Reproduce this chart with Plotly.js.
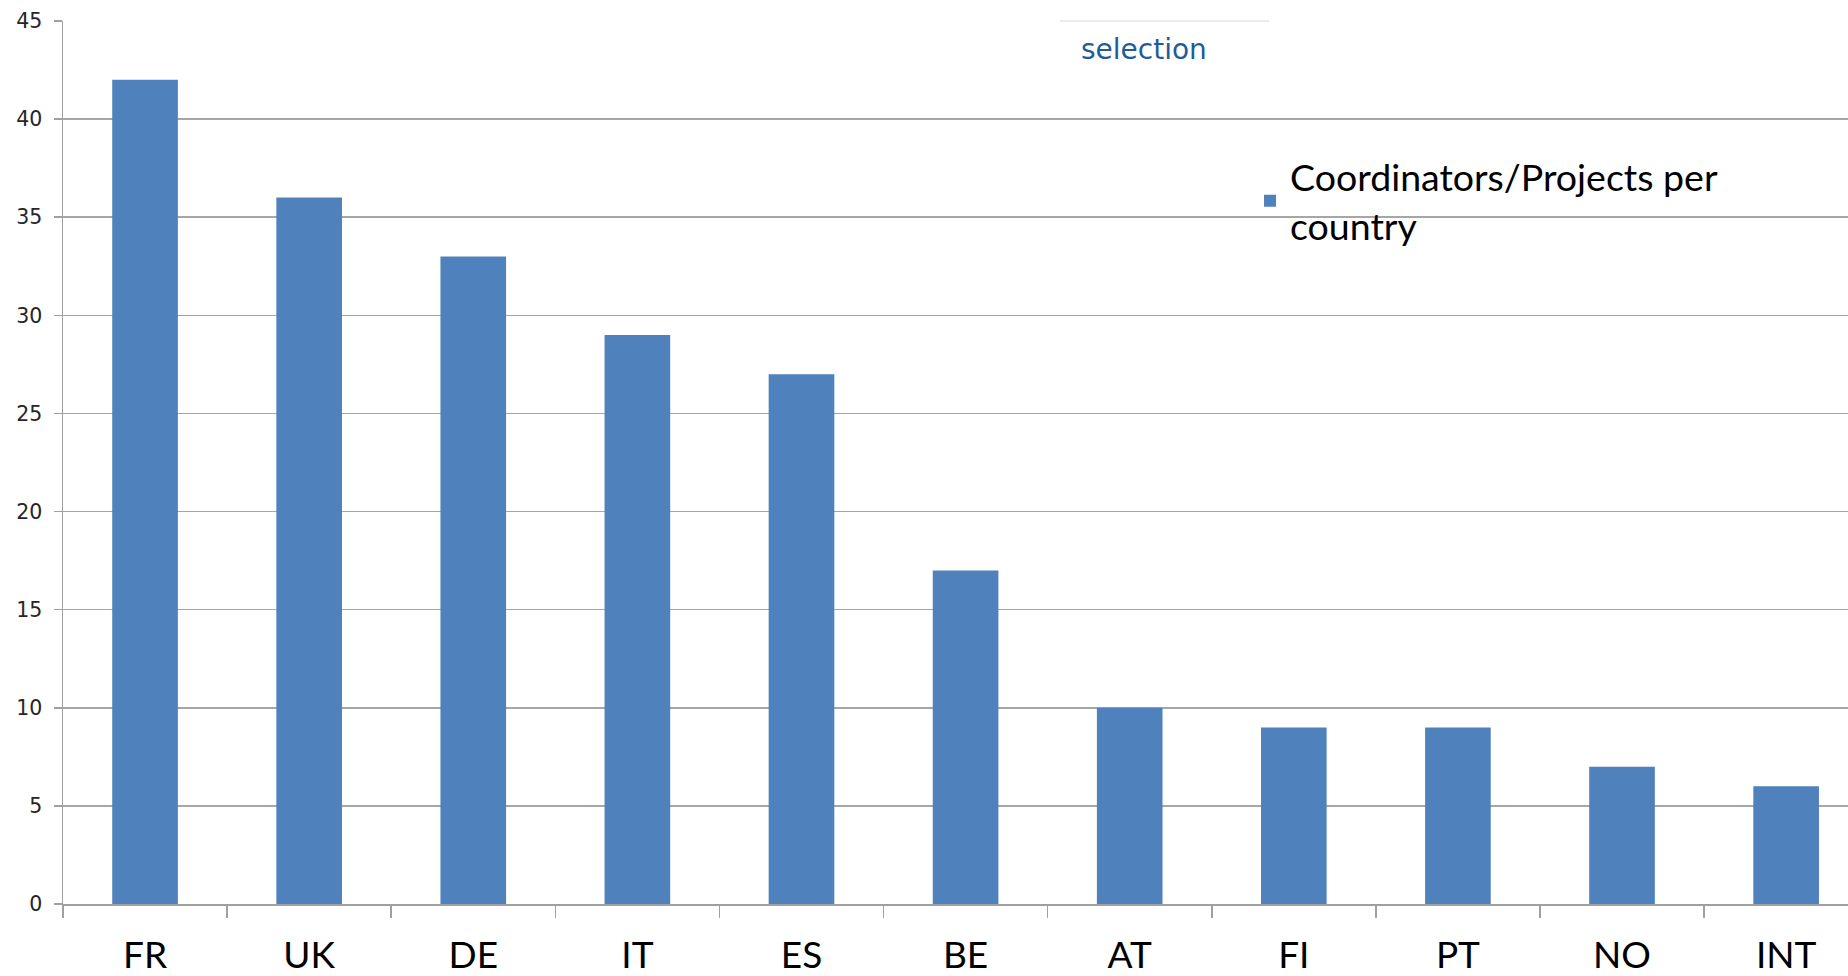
<!DOCTYPE html>
<html>
<head>
<meta charset="utf-8">
<script src="https://cdn.plot.ly/plotly-3.0.1.min.js"></script>
<style>html,body{margin:0;padding:0;background:#fff;}#chart{width:1848px;height:976px;}</style>
</head>
<body>
<div id="chart"></div>
<script>
const countries = ["FR", "UK", "DE", "IT", "ES", "BE", "AT", "FI", "PT", "NO", "INT"];
const coordinators = [42, 36, 33, 29, 27, 17, 10, 9, 9, 7, 6];
const seriesName = "Coordinators/Projects per<br>country";
const yTicks = [0, 5, 10, 15, 20, 25, 30, 35, 40, 45];

const trace = {
  type: "bar",
  x: countries,
  y: coordinators,
  name: seriesName,
  marker: {color: "#4f81bd", line: {width: 0}},
  showlegend: true,
  hoverinfo: "x+y"
};

const layout = {
  width: 1848,
  height: 976,
  margin: {l: 63, r: 0, t: 21, b: 72, pad: 0},
  paper_bgcolor: "#ffffff",
  plot_bgcolor: "#ffffff",
  bargap: 0.6,
  showlegend: true,
  legend: {
    x: 0.665, y: 0.859, xanchor: "left", yanchor: "top",
    font: {family: "Lato", size: 37.5, color: "#000000"},
    bgcolor: "rgba(0,0,0,0)",
    itemwidth: 30,
    tracegroupgap: 0
  },
  xaxis: {
    type: "category",
    range: [-0.5, 10.377],
    showgrid: false,
    showline: true,
    linecolor: "#a0a0a0",
    linewidth: 1.5,
    ticks: "outside",
    tickson: "boundaries",
    ticklen: 12,
    tickwidth: 1.5,
    tickcolor: "#a0a0a0",
    ticklabelstandoff: 18,
    tickfont: {family: "Lato", size: 37, color: "#000000"},
    zeroline: false,
    fixedrange: true
  },
  yaxis: {
    range: [0, 45],
    tickvals: yTicks,
    ticktext: yTicks.map(String),
    showgrid: true,
    gridcolor: "#a6a6a6",
    gridwidth: 1.5,
    showline: true,
    linecolor: "#a0a0a0",
    linewidth: 1.5,
    ticks: "outside",
    ticklen: 8,
    tickwidth: 1.5,
    tickcolor: "#a0a0a0",
    ticklabelstandoff: 7,
    tickfont: {family: "DejaVu Sans", size: 20.5, color: "#262626"},
    zeroline: false,
    fixedrange: true
  },
  shapes: [
    {type: "rect", xref: "paper", yref: "paper",
     x0: (1060 - 63) / 1785, x1: (1269 - 63) / 1785, y0: 0.955, y1: 1.002,
     fillcolor: "#ffffff", line: {width: 0}, layer: "above"},
    {type: "line", xref: "paper", yref: "paper",
     x0: (1060 - 63) / 1785, x1: (1269 - 63) / 1785, y0: 1.0, y1: 1.0,
     line: {color: "#e4e4e4", width: 1.5}, layer: "above"}
  ],
  annotations: [
    {text: "selection", xref: "paper", yref: "paper",
     x: (1079 - 63) / 1785, y: 0.968, xanchor: "left", yanchor: "middle",
     showarrow: false,
     font: {family: "DejaVu Sans", size: 28, color: "#1f5c99"}}
  ]
};

Plotly.newPlot("chart", [trace], layout, {displayModeBar: false, staticPlot: true});
</script>
</body>
</html>
